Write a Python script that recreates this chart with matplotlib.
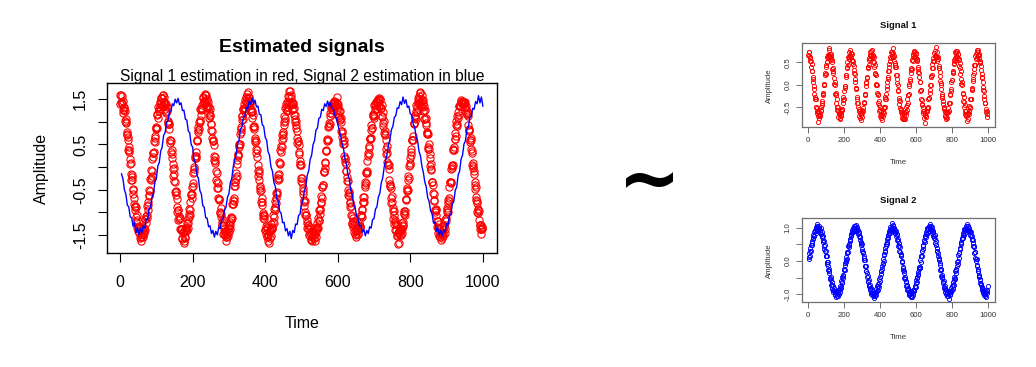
import matplotlib
matplotlib.use("Agg")
import matplotlib.pyplot as plt

plt.rcParams['font.family'] = ['Liberation Sans', 'DejaVu Sans']

W, H = 1036, 367

# ---------------- data ----------------
# left panel: estimated signal 1 (red circles) at even time points
time_est1_even = list(range(0, 1000, 2))
est_signal1_even = [
    1.60, 1.44, 1.58, 1.40, 1.27, 1.33, 1.30, 1.03, 0.99, 0.74, 0.77, 0.59, 0.34, 0.38, 0.06, -0.16, -0.17, -0.29, -0.59, -0.68,
    -0.94, -0.88, -1.10, -1.07, -1.35, -1.32, -1.35, -1.56, -1.40, -1.55, -1.48, -1.54, -1.33, -1.39, -1.40, -1.14, -1.08, -1.13, -0.83, -0.78,
    -0.51, -0.52, -0.29, -0.07, -0.09, 0.22, 0.32, 0.58, 0.56, 0.84, 0.88, 1.16, 1.08, 1.28, 1.23, 1.45, 1.53, 1.42, 1.52,
    1.59, 1.42, 1.45, 1.28, 1.40, 1.22, 1.25, 0.96, 0.95, 0.84, 0.54, 0.58, 0.29, 0.20, -0.05, -0.03, -0.31, -0.55, -0.53, -0.71,
    -1.00, -0.96, -1.15, -1.12, -1.37, -1.37, -1.37, -1.58, -1.46, -1.68, -1.40, -1.54, -1.35, -1.39, -1.15, -1.24, -1.04, -1.05, -0.77, -0.60,
    -0.59, -0.36, -0.14, -0.11, 0.21, 0.24, 0.33, 0.61, 0.81, 0.78, 0.99, 0.99, 1.26, 1.31, 1.28, 1.54, 1.43, 1.39,
    1.43, 1.60, 1.46, 1.33, 1.44, 1.33, 1.08, 1.15, 0.95, 0.95, 0.65, 0.58, 0.49, 0.15, 0.14, -0.08, -0.13, -0.46, -0.47, -0.72,
    -0.70, -1.02, -1.04, -1.27, -1.22, -1.27, -1.47, -1.44, -1.41, -1.55, -1.39, -1.49, -1.53, -1.34, -1.21, -1.29, -1.11, -1.12, -0.82, -0.73,
    -0.69, -0.34, -0.34, -0.24, 0.07, 0.27, 0.28, 0.49, 0.52, 0.85, 0.89, 1.14, 1.07, 1.28, 1.39, 1.30, 1.54, 1.43, 1.52,
    1.66, 1.42, 1.53, 1.45, 1.23, 1.28, 1.08, 1.16, 0.88, 0.84, 0.56, 0.58, 0.32, 0.22, -0.09, -0.07, -0.29, -0.52, -0.51, -0.78,
    -0.83, -1.13, -1.08, -1.14, -1.40, -1.39, -1.33, -1.54, -1.48, -1.68, -1.40, -1.56, -1.35, -1.32, -1.35, -1.07, -1.10, -0.88, -0.94, -0.68,
    -0.59, -0.29, -0.17, -0.16, 0.06, 0.38, 0.34, 0.59, 0.77, 0.74, 0.99, 1.03, 1.30, 1.33, 1.27, 1.40, 1.58, 1.44,
    1.69, 1.38, 1.53, 1.44, 1.28, 1.41, 1.16, 1.00, 1.03, 0.94, 0.65, 0.57, 0.30, 0.33, 0.07, 0.04, -0.30, -0.35, -0.47, -0.78,
    -0.73, -1.00, -1.05, -1.24, -1.16, -1.36, -1.50, -1.38, -1.45, -1.62, -1.45, -1.54, -1.41, -1.56,
    -1.49, -1.40, -1.55, -1.34, -1.33, -1.13, -1.20, -0.95, -0.92, -0.63, -0.68, -0.43, -0.40, -0.09, 0.10, 0.12, 0.36, 0.57, 0.59, 0.89,
    0.90, 0.95, 1.19, 1.35, 1.26, 1.41, 1.34, 1.44, 1.40,
    1.45, 1.35, 1.39, 1.40, 1.15, 1.23, 1.07, 1.08, 0.79, 0.80, 0.57, 0.59, 0.25, 0.20, -0.08, -0.08, -0.21, -0.50, -0.56, -0.63,
    -0.89, -0.85, -1.08, -1.25, -1.20, -1.21, -1.44, -1.39, -1.54, -1.37, -1.40, -1.47, -1.22, -1.32, -1.31, -1.06, -0.93, -0.96, -0.78, -0.77,
    -0.43, -0.39, -0.11, -0.14, 0.13, 0.31, 0.30, 0.63, 0.62, 0.83, 0.86, 1.16, 1.13, 1.14, 1.37, 1.39, 1.28, 1.47,
    1.48, 1.50, 1.37, 1.51, 1.31, 1.31, 1.13, 1.21, 0.97, 0.76, 0.79, 0.61, 0.30, 0.31, 0.07, 0.04, -0.28, -0.37, -0.46, -0.79,
    -0.78, -0.97, -0.98, -1.25, -1.21, -1.39, -1.29, -1.53, -1.46, -1.68, -1.45, -1.39, -1.50, -1.36, -1.23, -1.27, -1.01, -1.03, -0.97, -0.71,
    -0.51, -0.53, -0.29, -0.25, 0.08, 0.20, 0.26, 0.61, 0.60, 0.68, 0.97, 1.13, 1.09, 1.25, 1.21, 1.47, 1.42, 1.58, 1.42,
    1.66, 1.36, 1.49, 1.48, 1.24, 1.24, 1.26, 0.97, 0.94, 0.73, 0.73, 0.39, 0.40, 0.21, -0.06, -0.04, -0.33, -0.39, -0.73, -0.75,
    -0.94, -0.92, -1.07, -1.32, -1.35, -1.26, -1.52, -1.45, -1.44, -1.61, -1.48, -1.53, -1.31, -1.31, -1.36, -1.19, -0.96, -1.00, -0.80, -0.74,
    -0.45, -0.33, -0.32, -0.03, 0.03, 0.38, 0.38, 0.63, 0.63, 0.94, 0.96, 1.14, 1.09, 1.36, 1.37, 1.36, 1.45, 1.46,
    1.44, 1.41, 1.39, 1.44, 1.32, 1.19, 1.25, 1.19, 0.92, 0.85, 0.59, 0.64, 0.39, 0.36, 0.02, -0.03, -0.16, -0.48, -0.44, -0.73,
    -0.80, -1.02, -0.96, -1.18, -1.36, -1.27, -1.37, -1.33,
]

# left panel: estimated signal 1 (red circles) at odd time points
time_est1_odd = list(range(1, 1000, 2))
est_signal1_odd = [
    1.40, 1.60, 1.41, 1.47, 1.20, 1.27, 1.24, 0.98, 1.06, 0.70, 0.67, 0.37, 0.44, 0.17, 0.08, -0.28, -0.22, -0.49, -0.50, -0.82,
    -0.87, -0.88, -1.21, -1.17, -1.42, -1.30, -1.46, -1.35, -1.55, -1.63, -1.40, -1.50, -1.35, -1.45, -1.14, -1.24, -1.05, -0.85, -0.94, -0.64,
    -0.61, -0.27, -0.25, -0.20, 0.17, 0.31, 0.33, 0.69, 0.65, 0.86, 0.87, 1.18, 1.34, 1.24, 1.39, 1.32, 1.53, 1.36, 1.59,
    1.36, 1.56, 1.38, 1.42, 1.19, 1.33, 1.03, 1.00, 0.95, 0.59, 0.61, 0.34, 0.37, 0.07, -0.20, -0.15, -0.33, -0.62, -0.56, -0.88,
    -0.94, -1.18, -1.09, -1.13, -1.40, -1.38, -1.56, -1.43, -1.63, -1.41, -1.57, -1.32, -1.42, -1.24, -1.35, -1.10, -0.92, -0.94, -0.61, -0.69,
    -0.43, -0.42, -0.04, 0.01, 0.24, 0.20, 0.57, 0.61, 0.89, 0.85, 1.05, 1.28, 1.16, 1.38, 1.29, 1.53, 1.46, 1.62,
    1.59, 1.35, 1.51, 1.30, 1.36, 1.20, 1.29, 1.12, 0.81, 0.79, 0.58, 0.61, 0.25, 0.23, 0.09, -0.28, -0.33, -0.35, -0.69, -0.71,
    -1.00, -0.91, -1.10, -1.29, -1.18, -1.48, -1.38, -1.51, -1.41, -1.63, -1.54, -1.34, -1.43, -1.27, -1.38, -1.12, -1.16, -0.82, -0.81, -0.75,
    -0.42, -0.41, -0.14, -0.20, 0.16, 0.25, 0.52, 0.45, 0.74, 0.77, 1.12, 1.04, 1.29, 1.31, 1.23, 1.49, 1.43, 1.61, 1.40,
    1.35, 1.55, 1.39, 1.47, 1.22, 1.21, 1.23, 0.89, 0.90, 0.60, 0.65, 0.40, 0.38, 0.05, -0.19, -0.13, -0.42, -0.47, -0.78, -0.69,
    -1.02, -1.05, -1.07, -1.39, -1.31, -1.49, -1.35, -1.52, -1.64, -1.43, -1.42, -1.53, -1.26, -1.37, -1.21, -1.23, -0.93, -0.74, -0.80, -0.58,
    -0.56, -0.24, -0.27, 0.11, 0.08, 0.46, 0.45, 0.71, 0.65, 0.94, 1.13, 1.09, 1.39, 1.25, 1.43, 1.33, 1.58, 1.68,
    1.42, 1.59, 1.42, 1.26, 1.40, 1.30, 1.06, 1.16, 0.86, 0.79, 0.53, 0.57, 0.48, 0.13, 0.05, -0.24, -0.24, -0.59, -0.52, -0.85,
    -0.76, -1.05, -1.05, -1.35, -1.29, -1.29, -1.50, -1.33, -1.58, -1.47, -1.63, -1.41, -1.52, -1.44,
    -1.63, -1.38, -1.44, -1.24, -1.34, -1.16, -0.94, -1.04, -0.77, -0.79, -0.45, -0.40, -0.10, -0.11, -0.03, 0.35, 0.38, 0.63, 0.61, 0.98,
    0.91, 1.12, 1.30, 1.17, 1.40, 1.34, 1.44, 1.46, 1.36,
    1.36, 1.54, 1.27, 1.32, 1.11, 1.24, 1.04, 0.99, 0.67, 0.75, 0.51, 0.51, 0.18, 0.11, 0.07, -0.30, -0.31, -0.61, -0.57, -0.80,
    -0.78, -1.07, -1.24, -1.12, -1.32, -1.28, -1.49, -1.29, -1.50, -1.41, -1.30, -1.49, -1.27, -1.32, -1.05, -1.09, -1.10, -0.77, -0.66, -0.67,
    -0.32, -0.35, -0.12, -0.09, 0.25, 0.46, 0.42, 0.64, 0.64, 0.93, 0.86, 1.18, 1.09, 1.38, 1.29, 1.45, 1.28, 1.45,
    1.41, 1.53, 1.34, 1.48, 1.31, 1.37, 1.10, 0.91, 1.01, 0.74, 0.70, 0.39, 0.47, 0.11, 0.04, -0.04, -0.42, -0.42, -0.69, -0.64,
    -0.91, -1.15, -1.05, -1.17, -1.40, -1.26, -1.50, -1.46, -1.70, -1.42, -1.35, -1.51, -1.38, -1.45, -1.21, -1.30, -0.98, -1.05, -0.70, -0.72,
    -0.46, -0.51, -0.20, 0.03, 0.04, 0.40, 0.34, 0.60, 0.59, 0.95, 0.97, 1.16, 1.06, 1.37, 1.33, 1.53, 1.40, 1.50, 1.63,
    1.43, 1.59, 1.33, 1.41, 1.36, 1.06, 1.07, 1.09, 0.77, 0.75, 0.45, 0.52, 0.28, 0.03, 0.07, -0.32, -0.32, -0.57, -0.59, -0.95,
    -1.00, -0.95, -1.19, -1.19, -1.46, -1.36, -1.55, -1.36, -1.49, -1.57, -1.36, -1.47, -1.30, -1.45, -1.16, -1.13, -0.91, -1.00, -0.72, -0.69,
    -0.32, -0.36, -0.05, 0.04, 0.05, 0.41, 0.45, 0.76, 0.68, 1.01, 0.91, 1.21, 1.15, 1.36, 1.35, 1.49, 1.44, 1.39,
    1.45, 1.44, 1.41, 1.30, 1.36, 1.18, 1.17, 1.14, 0.80, 0.82, 0.56, 0.60, 0.31, 0.04, 0.09, -0.09, -0.39, -0.34, -0.67, -0.74,
    -0.99, -0.93, -0.98, -1.27, -1.28, -1.48, -1.38, -1.35,
]

# left panel: estimated signal 2 (blue line), every 4 time units
time_est2 = list(range(4, 1001, 4))
est_signal2 = [
    -0.15, -0.26, -0.50, -0.60, -0.84, -0.88, -1.10, -1.12, -1.31, -1.22, -1.45, -1.33, -1.50, -1.36, -1.46, -1.30, -1.35, -1.15, -1.16, -0.92,
    -0.90, -0.66, -0.60, -0.33, -0.26, 0.02, 0.10, 0.35, 0.44, 0.70, 0.76, 0.98, 1.03, 1.22, 1.23, 1.40, 1.36, 1.50, 1.42, 1.52,
    1.38, 1.42, 1.25, 1.26, 1.06, 1.04, 0.80, 0.76, 0.50, 0.44, 0.17, 0.08,
    -0.18, -0.25, -0.52, -0.59, -0.85, -0.89, -1.12, -1.13, -1.32, -1.30, -1.47, -1.40, -1.55, -1.42, -1.50, -1.33, -1.36, -1.17, -1.15, -0.94,
    -0.89, -0.67, -0.59, -0.34, -0.25, 0.01, 0.16, 0.27, 0.52, 0.60, 0.84, 0.89, 1.11, 1.13, 1.32, 1.29, 1.46, 1.39, 1.53, 1.40,
    1.48, 1.33, 1.35, 1.17, 1.16, 0.94, 0.90, 0.66, 0.60, 0.34, 0.26, 0.00,
    -0.09, -0.34, -0.43, -0.69, -0.75, -0.98, -1.02, -1.23, -1.22, -1.41, -1.36, -1.52, -1.42, -1.58, -1.40, -1.45, -1.26, -1.27, -1.07, -1.04,
    -0.82, -0.75, -0.52, -0.43, -0.18, -0.08, 0.17, 0.26, 0.50, 0.58, 0.82, 0.86, 1.08, 1.10, 1.28, 1.25, 1.40, 1.34, 1.46, 1.35,
    1.42, 1.30, 1.28, 1.15, 1.08, 0.95, 0.82, 0.70, 0.52, 0.41, 0.18, 0.07,
    -0.16, -0.27, -0.51, -0.61, -0.83, -0.90, -1.09, -1.14, -1.30, -1.29, -1.44, -1.38, -1.52, -1.40, -1.47, -1.32, -1.35, -1.16, -1.14, -0.93,
    -0.88, -0.66, -0.58, -0.35, -0.24, 0.00, 0.14, 0.29, 0.50, 0.61, 0.83, 0.90, 1.10, 1.14, 1.31, 1.30, 1.45, 1.38, 1.55, 1.41,
    1.49, 1.32, 1.35, 1.18, 1.15, 0.95, 0.89, 0.67, 0.59, 0.35, 0.25, 0.02,
    -0.12, -0.33, -0.44, -0.68, -0.76, -0.97, -1.03, -1.24, -1.21, -1.42, -1.35, -1.50, -1.40, -1.52, -1.39, -1.44, -1.25, -1.28, -1.06, -1.05,
    -0.81, -0.76, -0.51, -0.44, -0.17, -0.09, 0.18, 0.26, 0.51, 0.58, 0.83, 0.88, 1.10, 1.12, 1.30, 1.28, 1.45, 1.40, 1.58, 1.42,
    1.55, 1.35,
]

# right panel "Signal 1", every 2 time units
time_sig1 = list(range(0, 1000, 2))
signal1 = [
    0.66, 0.63, 0.72, 0.74, 0.59, 0.52, 0.62, 0.52, 0.40, 0.47, 0.31, 0.31, 0.12, 0.17, 0.07, -0.09, -0.02, -0.21, -0.32, -0.28,
    -0.32, -0.49, -0.49, -0.63, -0.52, -0.60, -0.70, -0.62, -0.83, -0.68, -0.75, -0.61, -0.69, -0.70, -0.56, -0.50, -0.60, -0.45, -0.37, -0.42,
    -0.20, -0.24, -0.19, -0.01, 0.02, 0.00, 0.21, 0.26, 0.24, 0.43, 0.39, 0.51, 0.62, 0.51, 0.66, 0.63, 0.62, 0.78, 0.67,
    0.81, 0.64, 0.69, 0.57, 0.69, 0.61, 0.50, 0.55, 0.34, 0.38, 0.25, 0.31, 0.14, 0.02, 0.06, 0.00, -0.22, -0.19, -0.24, -0.42,
    -0.33, -0.50, -0.57, -0.51, -0.60, -0.72, -0.62, -0.66, -0.76, -0.63, -0.74, -0.66, -0.58, -0.70, -0.55, -0.57, -0.56, -0.35, -0.41, -0.27,
    -0.32, -0.15, -0.02, -0.07, -0.03, 0.18, 0.21, 0.21, 0.40, 0.38, 0.50, 0.43, 0.61, 0.62, 0.57, 0.74, 0.66, 0.63,
    0.77, 0.62, 0.71, 0.70, 0.56, 0.68, 0.53, 0.46, 0.52, 0.41, 0.25, 0.32, 0.23, 0.06, 0.12, -0.07, -0.08, -0.10, -0.32, -0.28,
    -0.40, -0.50, -0.41, -0.58, -0.54, -0.70, -0.63, -0.60, -0.74, -0.78, -0.64, -0.68, -0.73, -0.57, -0.63, -0.53, -0.60, -0.42, -0.39, -0.41,
    -0.20, -0.24, -0.21, -0.03, 0.07, 0.03, 0.17, 0.15, 0.37, 0.39, 0.39, 0.55, 0.45, 0.60, 0.57, 0.73, 0.66, 0.63, 0.75,
    0.67, 0.78, 0.62, 0.63, 0.66, 0.51, 0.62, 0.51, 0.39, 0.43, 0.24, 0.26, 0.21, 0.00, 0.02, -0.01, -0.19, -0.24, -0.20, -0.42,
    -0.37, -0.45, -0.60, -0.50, -0.56, -0.70, -0.69, -0.61, -0.75, -0.68, -0.79, -0.62, -0.70, -0.60, -0.52, -0.63, -0.49, -0.49, -0.32, -0.28,
    -0.32, -0.21, -0.02, -0.09, 0.07, 0.17, 0.12, 0.31, 0.31, 0.47, 0.40, 0.52, 0.62, 0.52, 0.59, 0.74, 0.72, 0.63,
    0.68, 0.82, 0.61, 0.71, 0.65, 0.54, 0.64, 0.48, 0.39, 0.44, 0.39, 0.22, 0.21, 0.04, 0.12, 0.00, -0.14, -0.12, -0.34, -0.30,
    -0.43, -0.36, -0.52, -0.61, -0.54, -0.56, -0.74, -0.66, -0.66, -0.77, -0.62, -0.74, -0.76, -0.64,
    -0.69, -0.77, -0.62, -0.61, -0.67, -0.50, -0.56, -0.45, -0.33, -0.42, -0.24, -0.23, -0.20, 0.02, -0.02, 0.13, 0.09, 0.26, 0.38, 0.32,
    0.35, 0.55, 0.55, 0.52, 0.69, 0.63, 0.72, 0.61, 0.75,
    0.62, 0.74, 0.71, 0.59, 0.69, 0.54, 0.56, 0.57, 0.36, 0.40, 0.28, 0.17, 0.25, 0.05, 0.06, -0.14, -0.11, -0.13, -0.32, -0.43,
    -0.35, -0.46, -0.58, -0.50, -0.63, -0.60, -0.75, -0.64, -0.68, -0.85, -0.62, -0.71, -0.73, -0.59, -0.53, -0.60, -0.49, -0.52, -0.31, -0.29,
    -0.29, -0.12, -0.19, -0.01, 0.00, 0.20, 0.18, 0.21, 0.38, 0.47, 0.38, 0.53, 0.60, 0.53, 0.71, 0.63, 0.64, 0.76,
    0.61, 0.85, 0.64, 0.74, 0.61, 0.54, 0.61, 0.58, 0.38, 0.42, 0.37, 0.20, 0.28, 0.09, 0.00, 0.03, -0.09, -0.26, -0.20, -0.29,
    -0.44, -0.37, -0.54, -0.53, -0.51, -0.70, -0.62, -0.70, -0.76, -0.61, -0.73, -0.64, -0.74, -0.61, -0.53, -0.61, -0.60, -0.41, -0.40, -0.41,
    -0.21, -0.23, -0.10, -0.15, 0.06, 0.10, 0.10, 0.31, 0.27, 0.29, 0.47, 0.55, 0.49, 0.59, 0.54, 0.72, 0.71, 0.65, 0.76,
    0.62, 0.75, 0.69, 0.59, 0.69, 0.56, 0.58, 0.41, 0.48, 0.38, 0.24, 0.31, 0.13, 0.01, 0.05, -0.01, -0.19, -0.20, -0.36, -0.28,
    -0.38, -0.51, -0.46, -0.66, -0.59, -0.69, -0.59, -0.71, -0.81, -0.65, -0.63, -0.76, -0.64, -0.59, -0.66, -0.47, -0.53, -0.49, -0.32, -0.31,
    -0.33, -0.13, -0.07, -0.09, 0.12, 0.08, 0.22, 0.35, 0.26, 0.44, 0.44, 0.45, 0.65, 0.57, 0.68, 0.59, 0.72, 0.78,
    0.65, 0.78, 0.67, 0.60, 0.68, 0.67, 0.48, 0.53, 0.50, 0.33, 0.41, 0.24, 0.15, 0.18, 0.06, -0.11, -0.05, -0.15, -0.31, -0.25,
    -0.42, -0.42, -0.42, -0.62, -0.55, -0.65, -0.72, -0.59,
]

# right panel "Signal 2", every 2 time units
time_sig2 = list(range(2, 1001, 2))
signal2 = [
    0.13, 0.05, 0.23, 0.14, 0.29, 0.38, 0.30, 0.47, 0.47, 0.61, 0.53, 0.65, 0.78, 0.68, 0.74, 0.87, 0.76, 0.91, 0.92, 0.85,
    1.03, 0.95, 0.92, 1.04, 1.10, 0.96, 1.03, 0.91, 1.05, 0.96, 1.00, 0.88, 0.93, 0.98, 0.82, 0.81, 0.88, 0.71, 0.75, 0.74,
    0.56, 0.62, 0.60, 0.45, 0.37, 0.47, 0.31, 0.31, 0.15, 0.16, 0.16, -0.02,
    -0.08, -0.02, -0.14, -0.27, -0.23, -0.35, -0.29, -0.51, -0.53, -0.48, -0.56, -0.72, -0.64, -0.71, -0.83, -0.74, -0.87, -0.92, -0.82, -0.91,
    -1.02, -0.92, -1.00, -0.93, -1.09, -0.97, -1.04, -0.90, -0.94, -1.04, -0.97, -0.87, -0.99, -0.88, -0.83, -0.92, -0.75, -0.80, -0.78, -0.60,
    -0.63, -0.65, -0.47, -0.51, -0.41, -0.46, -0.28, -0.25, -0.28, -0.07, -0.13, 0.03,
    -0.03, 0.13, 0.07, 0.28, 0.25, 0.28, 0.46, 0.41, 0.51, 0.47, 0.65, 0.63, 0.60, 0.78, 0.80, 0.75, 0.92, 0.83, 0.88, 0.99,
    0.87, 0.97, 1.04, 0.94, 0.90, 1.04, 0.97, 1.09, 0.93, 1.00, 0.92, 1.02, 0.91, 0.82, 0.92, 0.87, 0.74, 0.83, 0.71, 0.64,
    0.72, 0.56, 0.48, 0.53, 0.51, 0.29, 0.35, 0.23, 0.27, 0.14, 0.02, 0.08,
    0.02, -0.16, -0.16, -0.15, -0.31, -0.31, -0.47, -0.37, -0.45, -0.60, -0.62, -0.56, -0.74, -0.75, -0.71, -0.88, -0.81, -0.82, -0.98, -0.93,
    -0.88, -1.00, -0.96, -1.05, -0.91, -1.03, -0.96, -1.10, -1.04, -0.92, -0.95, -1.03, -0.85, -0.92, -0.91, -0.76, -0.87, -0.74, -0.68, -0.78,
    -0.65, -0.53, -0.61, -0.47, -0.47, -0.30, -0.38, -0.29, -0.14, -0.23, -0.05, -0.09,
    0.06, 0.00, 0.21, 0.19, 0.31, 0.26, 0.39, 0.52, 0.44, 0.51, 0.66, 0.58, 0.71, 0.78, 0.69, 0.84, 0.90, 0.83, 0.83, 1.01,
    0.93, 1.00, 0.92, 1.00, 1.13, 0.95, 1.06, 0.96, 1.07, 0.91, 0.98, 1.00, 0.84, 0.93, 0.85, 0.91, 0.75, 0.78, 0.82, 0.64,
    0.61, 0.65, 0.46, 0.53, 0.46, 0.31, 0.41, 0.26, 0.15, 0.20, 0.19, -0.01,
    -0.04, -0.03, -0.18, -0.22, -0.28, -0.30, -0.36, -0.50, -0.47, -0.55, -0.62, -0.61, -0.74, -0.75, -0.72, -0.86, -0.88, -0.85, -0.80, -0.99,
    -0.95, -1.03, -0.90, -0.98, -1.08, -0.97, -1.04, -0.94, -1.09, -0.93, -0.96, -1.02, -0.86, -0.90, -0.87, -0.88, -0.78, -0.76, -0.79, -0.66,
    -0.58, -0.62, -0.49, -0.50, -0.43, -0.34, -0.38, -0.24, -0.18, -0.17, -0.21, 0.03,
    -0.02, 0.16, 0.16, 0.15, 0.31, 0.31, 0.47, 0.37, 0.45, 0.60, 0.62, 0.56, 0.74, 0.75, 0.71, 0.88, 0.81, 0.82, 0.98, 0.93,
    0.88, 1.00, 0.96, 1.05, 0.91, 1.03, 0.96, 1.10, 1.04, 0.92, 0.95, 1.03, 0.85, 0.92, 0.91, 0.76, 0.87, 0.74, 0.68, 0.78,
    0.65, 0.53, 0.61, 0.47, 0.47, 0.30, 0.38, 0.29, 0.14, 0.23, 0.05, 0.09,
    0.03, -0.13, -0.07, -0.28, -0.25, -0.28, -0.46, -0.41, -0.51, -0.47, -0.65, -0.63, -0.60, -0.78, -0.80, -0.75, -0.92, -0.83, -0.88, -0.99,
    -0.87, -0.97, -1.04, -0.94, -0.90, -1.04, -0.97, -1.13, -0.93, -1.00, -0.92, -1.02, -0.91, -0.82, -0.92, -0.87, -0.74, -0.83, -0.71, -0.64,
    -0.72, -0.56, -0.48, -0.53, -0.51, -0.29, -0.35, -0.23, -0.27, -0.14, -0.02, -0.08,
    0.00, 0.18, 0.09, 0.23, 0.23, 0.40, 0.37, 0.36, 0.54, 0.57, 0.52, 0.70, 0.67, 0.68, 0.85, 0.78, 0.78, 0.91, 0.97, 0.83,
    0.97, 0.92, 1.04, 0.98, 0.93, 1.11, 0.94, 1.04, 0.91, 1.05, 0.94, 0.90, 1.00, 0.87, 0.89, 0.77, 0.87, 0.76, 0.64, 0.74,
    0.67, 0.53, 0.62, 0.45, 0.42, 0.45, 0.25, 0.28, 0.27, 0.10, -0.01, 0.07,
    0.06, -0.15, -0.11, -0.24, -0.30, -0.31, -0.42, -0.45, -0.47, -0.58, -0.55, -0.67, -0.73, -0.70, -0.82, -0.77, -0.87, -0.90, -0.85, -0.96,
    -0.92, -1.02, -0.94, -1.05, -0.95, -0.99, -1.07, -0.93, -0.97, -0.86, -0.90, -0.75,
]

# ticks / labels
x_ticks = [0, 200, 400, 600, 800, 1000]
main_y_ticks = [-1.5, -1.0, -0.5, 0.0, 0.5, 1.0, 1.5]
main_y_labels = ['-1.5', '', '-0.5', '', '0.5', '', '1.5']
sig1_y_ticks = [-0.5, 0.0, 0.5]
sig1_y_labels = ['-0.5', '0.0', '0.5']
sig2_y_ticks = [-1.0, -0.5, 0.0, 0.5, 1.0]
sig2_y_labels = ['-1.0', '', '0.0', '', '1.0']

main_title = 'Estimated signals'
main_subtitle = 'Signal 1 estimation in red, Signal 2 estimation in blue'

# ---------------- drawing ----------------
fig = plt.figure(figsize=(W / 100, H / 100), dpi=100)
fig.patch.set_facecolor('white')


def rect(l, t, r, b):
    return [l / W, 1 - b / H, (r - l) / W, (b - t) / H]


def fx(x):
    return x / W


def fy(y):
    return 1 - y / H


# ---- left, main panel ----
ax = fig.add_axes(rect(107, 83, 497, 253))
for tt, vv in ((time_est1_even, est_signal1_even), (time_est1_odd, est_signal1_odd)):
    ax.plot(tt, vv, linestyle='none', marker='o', ms=5.2,
            mfc='none', mec='#ff0000', mew=0.8, zorder=2)
ax.plot(time_est2, est_signal2, color='#0000ff', lw=1.0, zorder=3)
ax.set_xlim(-36, 1039)
ax.set_ylim(-1.90, 1.86)
for s in ax.spines.values():
    s.set_linewidth(1.0)
    s.set_color('black')
ax.set_xticks(x_ticks)
ax.set_xticklabels([str(v) for v in x_ticks])
ax.set_yticks(main_y_ticks)
ax.set_yticklabels(main_y_labels, rotation=90, va='center')
ax.tick_params(axis='both', direction='out', length=6.5, width=0.8,
               labelsize=11.5, colors='black')
ax.tick_params(axis='x', pad=9.5)
ax.tick_params(axis='y', pad=7)

fig.text(fx(302), fy(52), main_title, ha='center', va='baseline',
         fontsize=14, fontweight='bold')
fig.text(fx(302), fy(80.5), main_subtitle, ha='center', va='baseline',
         fontsize=11.2)
fig.text(fx(302), fy(327.5), 'Time', ha='center', va='baseline', fontsize=11.5)
fig.text(fx(41), fy(168), 'Amplitude', ha='center', va='center',
         rotation=90, fontsize=11.5)

# ---- tilde ----
fig.text(fx(650), fy(184), '~', ha='center', va='center', fontsize=54,
         fontweight='bold', family='DejaVu Sans')

# ---- right panels ----
small_grey = '#6e6e6e'
small_text = '#333333'


def small_panel(top, bottom, t, v, color, ylim, yt, ylab, title, title_base,
                time_base):
    a = fig.add_axes(rect(801.7, top, 995, bottom))
    a.plot(t, v, linestyle='none', marker='o', ms=3.0, mfc='none',
           mec=color, mew=0.65)
    a.set_xlim(-37, 1041)
    a.set_ylim(*ylim)
    for s in a.spines.values():
        s.set_linewidth(0.9)
        s.set_color(small_grey)
    a.set_xticks(x_ticks)
    a.set_xticklabels([str(x) for x in x_ticks])
    a.set_yticks(yt)
    a.set_yticklabels(ylab, rotation=90, va='center')
    a.tick_params(axis='both', direction='out', length=4.0, width=0.7,
                  color=small_grey, labelcolor=small_text, labelsize=5.6)
    a.tick_params(axis='x', pad=3)
    a.tick_params(axis='y', pad=3.5)
    fig.text(fx(898.4), fy(title_base), title, ha='center', va='baseline',
             fontsize=6.8, fontweight='bold', color='#111111')
    fig.text(fx(898.4), fy(time_base), 'Time', ha='center', va='baseline',
             fontsize=5.6, color=small_text)
    fig.text(fx(769.7), fy((top + bottom) / 2), 'Amplitude', ha='center',
             va='center', rotation=90, fontsize=5.6, color=small_text)
    return a


small_panel(43.3, 127.3, time_sig1, signal1, '#ff0000', (-0.954, 0.925),
            sig1_y_ticks, sig1_y_labels, 'Signal 1', 28.3, 164)
small_panel(218.3, 302.3, time_sig2, signal2, '#0000ff', (-1.24, 1.28),
            sig2_y_ticks, sig2_y_labels, 'Signal 2', 203.3, 339)

fig.savefig('out.png', dpi=100, facecolor='white')
